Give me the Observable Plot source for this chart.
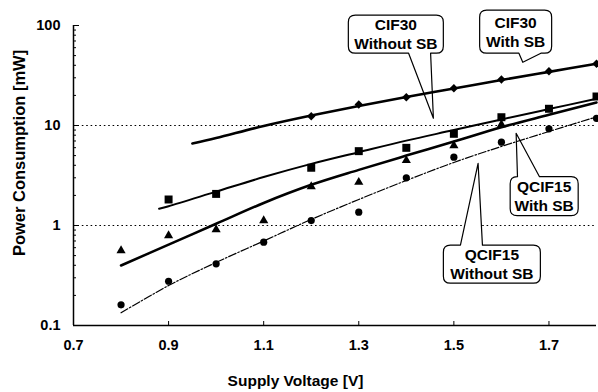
<!DOCTYPE html>
<html><head><meta charset="utf-8">
<script src="https://cdn.jsdelivr.net/npm/d3@7"></script>
<script src="https://cdn.jsdelivr.net/npm/@observablehq/plot@0.6"></script>
<style>body{margin:0;background:#fff}#chart{width:598px;height:392px}</style>
</head><body><div id="chart"></div>
<script>
// ---- data ----
const voltages = [0.8, 0.9, 1.0, 1.1, 1.2, 1.3, 1.4, 1.5, 1.6, 1.7, 1.8];
const cif30WithSB     = [null, null, null, null, 12.4, 16.2, 19.2, 23.6, 28.8, 34.9, 41.4];
const cif30WithoutSB  = [null, 1.82, 2.07, null, 3.78, 5.54, 5.98, 8.26, 12.1, 14.7, 19.5];
const qcif15WithSB    = [0.562, 0.794, 0.912, 1.12, 2.45, 2.71, 4.47, 6.31, 10.2, null, null];
const qcif15WithoutSB = [0.161, 0.277, 0.414, 0.681, 1.12, 1.36, 3.0, 4.82, 6.81, 9.27, 11.8];

// fitted curves
const fitCif30WithV  = [0.95, 1.0, 1.1, 1.2, 1.3, 1.4, 1.5, 1.6, 1.7, 1.8];
const fitCif30WithP  = [6.6, 7.5, 9.9, 12.6, 15.7, 19.3, 23.4, 28.5, 34.4, 41.4];
const fitCif30WithoutV = [0.88, 0.9, 1.0, 1.1, 1.2, 1.3, 1.4, 1.5, 1.6, 1.7, 1.8];
const fitCif30WithoutP = [1.47, 1.56, 2.18, 3.05, 4.13, 5.41, 7.06, 9.0, 11.5, 14.6, 18.5];
const fitQcif15WithV  = [0.8, 0.9, 1.0, 1.1, 1.2, 1.3, 1.4, 1.5, 1.6, 1.7, 1.8];
const fitQcif15WithP  = [0.398, 0.643, 1.04, 1.68, 2.55, 3.6, 5.0, 6.9, 9.6, 12.8, 17.0];
const fitQcif15WithoutV = [0.8, 0.9, 1.0, 1.1, 1.2, 1.3, 1.4, 1.5, 1.6, 1.7, 1.8];
const fitQcif15WithoutP = [0.134, 0.251, 0.427, 0.70, 1.15, 1.82, 2.82, 4.27, 6.17, 8.71, 12.2];

const xTicks = [0.7, 0.9, 1.1, 1.3, 1.5, 1.7];
const yTicks = [0.1, 1, 10, 100];
const yMinorTicks = [0.2,0.3,0.4,0.5,0.6,0.7,0.8,0.9,2,3,4,5,6,7,8,9,20,30,40,50,60,70,80,90];
const gridValues = [1, 10];

// callout annotations (data coordinates)
const calloutLines = [["CIF30", "Without SB"], ["CIF30", "With SB"], ["QCIF15", "With SB"], ["QCIF15", "Without SB"]];
const calloutX    = [1.379, 1.631, 1.691, 1.581];
const calloutY    = [80.9, 85.7, 1.94, 0.406];
const calloutTipX = [1.458, 1.646, 1.632, 1.552];
const calloutTipY = [11.7, 42.4, 8.26, 4.14];
const calloutBaseX = [1.429, 1.661, 1.658, 1.538];

// ---- build tables ----
const pts = (xs, ys) => xs.map((x, i) => ({x, y: ys[i]})).filter(d => d.y != null);
const boxSize = [[95, 38], [72, 43], [68, 39], [97, 38]];

function callouts(index, scales) {
  const g = d3.create("svg:g");
  calloutLines.forEach((lines, i) => {
    const cx = scales.x(calloutX[i]), cy = scales.y(calloutY[i]);
    const tx = scales.x(calloutTipX[i]), ty = scales.y(calloutTipY[i]);
    const bx = scales.x(calloutBaseX[i]);
    const [w, h] = boxSize[i];
    const x0 = cx - w / 2, x1 = cx + w / 2, y0 = cy - h / 2, y1 = cy + h / 2, r = 7, bw = 22;
    const b1 = bx - bw / 2, b2 = bx + bw / 2;
    let d;
    if (ty < cy) {
      d = `M${x0+r},${y0}L${b1},${y0}L${tx},${ty}L${b2},${y0}L${x1-r},${y0}Q${x1},${y0} ${x1},${y0+r}L${x1},${y1-r}Q${x1},${y1} ${x1-r},${y1}L${x0+r},${y1}Q${x0},${y1} ${x0},${y1-r}L${x0},${y0+r}Q${x0},${y0} ${x0+r},${y0}Z`;
    } else {
      d = `M${x0+r},${y0}L${x1-r},${y0}Q${x1},${y0} ${x1},${y0+r}L${x1},${y1-r}Q${x1},${y1} ${x1-r},${y1}L${b2},${y1}L${tx},${ty}L${b1},${y1}L${x0+r},${y1}Q${x0},${y1} ${x0},${y1-r}L${x0},${y0+r}Q${x0},${y0} ${x0+r},${y0}Z`;
    }
    g.append("path").attr("d", d).attr("fill", "white").attr("stroke", "black").attr("stroke-width", 1.2).attr("stroke-linejoin", "round");
    lines.forEach((t, k) => {
      g.append("text").attr("x", cx).attr("y", cy + (k - 0.5) * 19).attr("dy", "0.36em")
        .attr("text-anchor", "middle").attr("font-size", 15.5).attr("font-weight", "bold")
        .attr("font-family", "'Liberation Sans', Arial, sans-serif").attr("fill", "black").text(t);
    });
  });
  return g.node();
}

const plot = Plot.plot({
  width: 598, height: 392,
  marginLeft: 73, marginRight: 2, marginTop: 25, marginBottom: 67,
  x: {domain: [0.7, 1.8]},
  y: {type: "log", domain: [0.1, 100]},
  style: {fontFamily: "'Liberation Sans', Arial, sans-serif", fontWeight: "bold", fontSize: "14px", color: "#000", background: "#fff", overflow: "visible"},
  marks: [
    Plot.ruleY(gridValues, {stroke: "black", strokeWidth: 1, strokeDasharray: "1.6,2.8"}),
    callouts,
    Plot.line(pts(fitCif30WithV, fitCif30WithP), {x: "x", y: "y", curve: "catmull-rom", stroke: "black", strokeWidth: 2.6}),
    Plot.line(pts(fitCif30WithoutV, fitCif30WithoutP), {x: "x", y: "y", curve: "catmull-rom", stroke: "black", strokeWidth: 2}),
    Plot.line(pts(fitQcif15WithV, fitQcif15WithP), {x: "x", y: "y", curve: "catmull-rom", stroke: "black", strokeWidth: 2.6}),
    Plot.line(pts(fitQcif15WithoutV, fitQcif15WithoutP), {x: "x", y: "y", curve: "catmull-rom", stroke: "black", strokeWidth: 1.2, strokeDasharray: "8,2,1.5,2"}),
    Plot.dot(pts(voltages, cif30WithSB), {x: "x", y: "y", symbol: "diamond2", r: 3.8, fill: "black"}),
    Plot.dot(pts(voltages, cif30WithoutSB), {x: "x", y: "y", symbol: "square", r: 4.5, fill: "black"}),
    Plot.dot(pts(voltages, qcif15WithSB), {x: "x", y: "y", symbol: "triangle", r: 3.4, fill: "black"}),
    Plot.dot(pts(voltages, qcif15WithoutSB), {x: "x", y: "y", symbol: "circle", r: 3.6, fill: "black"}),
    Plot.ruleX([0.7], {stroke: "black", strokeWidth: 1.5}),
    Plot.ruleY([0.1], {stroke: "black", strokeWidth: 1.5}),
    Plot.axisY({ticks: yMinorTicks, tickSize: -3, tickFormat: () => "", strokeWidth: 1, label: null}),
    Plot.axisY({ticks: yTicks, tickSize: -6, tickFormat: () => "", strokeWidth: 1, label: null}),
    Plot.axisY({ticks: yTicks, tickSize: 0, tickPadding: 13, tickFormat: d => String(d), fontSize: 14.5, fontWeight: "bold", label: null}),
    Plot.axisX({ticks: xTicks, tickSize: -4, tickFormat: () => "", strokeWidth: 1, label: null}),
    Plot.axisX({ticks: xTicks, tickSize: 0, tickPadding: 14, tickFormat: d3.format(".1f"), fontSize: 14.5, fontWeight: "bold", label: null}),
    Plot.text(["Power Consumption [mW]"], {text: d => d, frameAnchor: "left", rotate: -90, textAnchor: "middle", lineAnchor: "middle", dx: -54, dy: -22.5, fontSize: 16.5, fontWeight: "bold"}),
    Plot.text(["Supply Voltage [V]"], {text: d => d, frameAnchor: "bottom", textAnchor: "middle", lineAnchor: "middle", dx: -39.5, dy: 56, fontSize: 15.5, fontWeight: "bold"})
  ]
});
document.getElementById("chart").append(plot);
</script>
</body></html>
